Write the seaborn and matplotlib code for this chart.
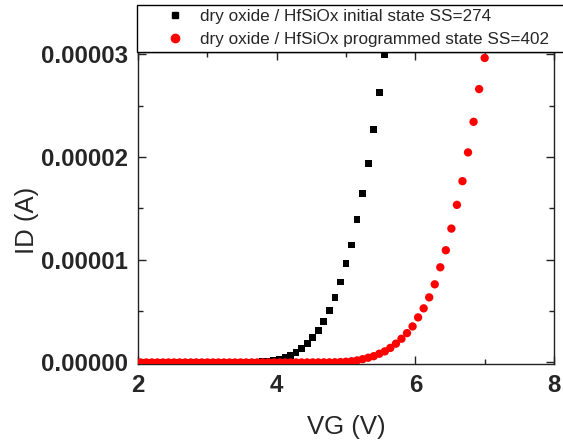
import matplotlib
matplotlib.use("Agg")
import matplotlib.pyplot as plt
from matplotlib.lines import Line2D
from matplotlib.ticker import MultipleLocator
import numpy as np
import pandas as pd
import seaborn as sns

# ---------------- data ----------------
vg_initial = [2.04, 2.12, 2.20, 2.28, 2.36, 2.44, 2.52, 2.60, 2.68, 2.76,
              2.84, 2.92, 3.00, 3.08, 3.16, 3.24, 3.32, 3.40, 3.48, 3.56,
              3.64, 3.72, 3.80, 3.88, 3.96, 4.04, 4.12, 4.20, 4.28, 4.36,
              4.44, 4.52, 4.60, 4.68, 4.76, 4.84, 4.92, 5.00, 5.08, 5.16,
              5.24, 5.32, 5.40, 5.48, 5.56]
id_initial_e5 = [0.0, 0.0, 0.0, 0.0, 0.0, 0.0, 0.0, 0.0, 0.0, 0.0,
                 0.0, 0.0, 0.0, 0.0, 0.0, 0.0, 0.0005, 0.0007, 0.001, 0.002,
                 0.003, 0.005, 0.008, 0.013, 0.020, 0.030, 0.046, 0.068, 0.100, 0.137,
                 0.182, 0.241, 0.309, 0.400, 0.504, 0.634, 0.784, 0.960, 1.145, 1.395,
                 1.645, 1.940, 2.270, 2.630, 3.000]

vg_programmed = [2.04, 2.12, 2.20, 2.28, 2.36, 2.44, 2.52, 2.60, 2.68, 2.76,
                 2.84, 2.92, 3.00, 3.08, 3.16, 3.24, 3.32, 3.40, 3.48, 3.56,
                 3.64, 3.72, 3.80, 3.88, 3.96, 4.04, 4.12, 4.20, 4.28, 4.36,
                 4.44, 4.52, 4.60, 4.68, 4.76, 4.84, 4.92, 5.00, 5.08, 5.16,
                 5.24, 5.32, 5.40, 5.48, 5.56, 5.64, 5.72, 5.80, 5.88, 5.96,
                 6.04, 6.12, 6.20, 6.28, 6.36, 6.44, 6.52, 6.60, 6.68, 6.76,
                 6.84, 6.92, 7.00]
id_programmed_e5 = [0.0, 0.0, 0.0, 0.0, 0.0, 0.0, 0.0, 0.0, 0.0, 0.0,
                    0.0, 0.0, 0.0, 0.0, 0.0, 0.0, 0.0, 0.0, 0.0, 0.0,
                    0.0, 0.0, 0.0, 0.0, 0.0, 0.0, 0.0, 0.0, 0.0, 0.0,
                    0.0005, 0.0006, 0.0008, 0.0009, 0.001, 0.002, 0.004, 0.007, 0.012, 0.020,
                    0.032, 0.046, 0.061, 0.085, 0.108, 0.142, 0.183, 0.231, 0.286, 0.351,
                    0.439, 0.527, 0.634, 0.761, 0.927, 1.093, 1.304, 1.535, 1.766, 2.046,
                    2.344, 2.663, 2.966]

series_labels = ["dry oxide / HfSiOx initial state SS=274",
                 "dry oxide / HfSiOx programmed state SS=402"]

xticks = [2, 4, 6, 8]
xtick_labels = ["2", "4", "6", "8"]
yticks = [0.0, 1e-5, 2e-5, 3e-5]
ytick_labels = ["0.00000", "0.00001", "0.00002", "0.00003"]

df_init = pd.DataFrame({"VG": vg_initial, "ID": np.array(id_initial_e5) * 1e-5})
df_prog = pd.DataFrame({"VG": vg_programmed, "ID": np.array(id_programmed_e5) * 1e-5})

# ---------------- style ----------------
sns.set_style("ticks")
plt.rcParams["font.family"] = ["Liberation Sans", "DejaVu Sans"]

W, H = 563, 448
fig = plt.figure(figsize=(W / 100, H / 100), dpi=100)
ax = fig.add_axes([138 / W, 1 - 364 / H, (554 - 138) / W, (364 - 52) / H])

sns.scatterplot(data=df_init, x="VG", y="ID", marker="s", s=24, color="black",
                edgecolor="none", linewidth=0, ax=ax, legend=False, zorder=3)
sns.scatterplot(data=df_prog, x="VG", y="ID", marker="o", s=36, color="#ff0000",
                edgecolor="none", linewidth=0, ax=ax, legend=False, zorder=4)

ax.set_xlim(2, 8)
ax.set_ylim(-1.5e-7, 3.024e-5)

ax.set_xticks(xticks)
ax.set_xticklabels(xtick_labels, fontsize=17.3, fontweight="bold")
ax.set_yticks(yticks)
ax.set_yticklabels(ytick_labels, fontsize=17.3, fontweight="bold")
ax.xaxis.set_minor_locator(MultipleLocator(1))
ax.yaxis.set_minor_locator(MultipleLocator(0.5e-5))
ax.tick_params(which="both", direction="in", top=True, right=True,
               color="#222222", width=1.0)
ax.tick_params(which="major", length=6, pad=7)
ax.tick_params(which="minor", length=3.3)
for s in ax.spines.values():
    s.set_color("#222222")
    s.set_linewidth(1.0)
    s.set_visible(True)

ax.set_xlabel("VG (V)", fontsize=18.5)
ax.set_ylabel("ID (A)", fontsize=18.5)
ax.xaxis.set_label_coords(0.5, -0.163)
ax.yaxis.set_label_coords(-0.238, 0.4615)

handles = [Line2D([], [], marker="s", ls="", color="black", ms=5.0),
           Line2D([], [], marker="o", ls="", color="#ff0000", ms=6.0)]
leg = fig.legend(handles=handles, labels=series_labels, loc="upper left",
                 bbox_to_anchor=(137 / W, 0, 0.9, 1 - 5 / H), mode="expand",
                 borderaxespad=0, fancybox=False, edgecolor="black", framealpha=1,
                 fontsize=12.3, handlelength=3.92, handletextpad=-0.5,
                 borderpad=0.26, labelspacing=0.46, numpoints=1)
leg.get_frame().set_linewidth(1.0)

fig.savefig("out.png", dpi=100)
